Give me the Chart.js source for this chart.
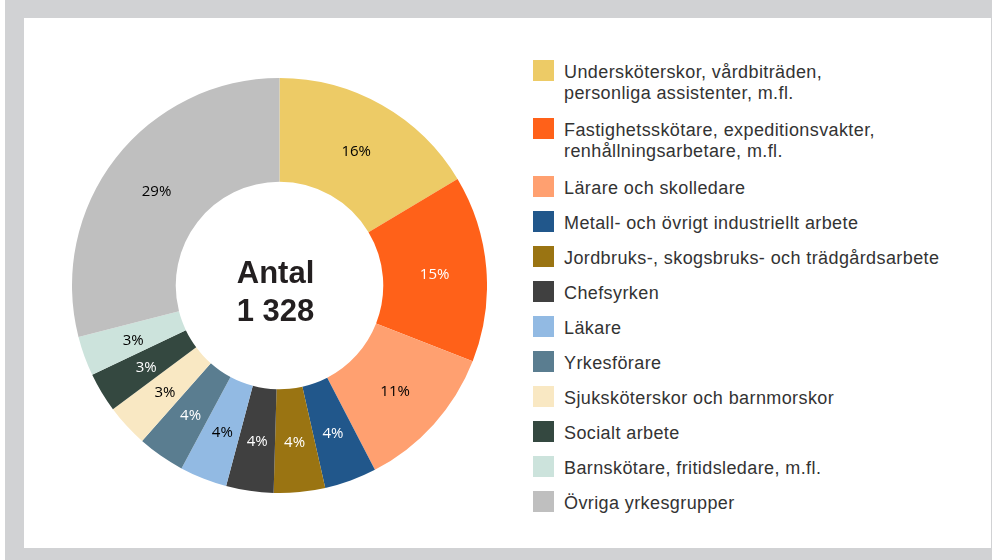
<!DOCTYPE html>
<html lang="sv">
<head>
<meta charset="utf-8">
<script src="https://cdn.jsdelivr.net/npm/chart.js@4"></script>
<style>
    html, body {
        margin: 0;
        padding: 0;
        width: 992px;
        height: 560px;
        background: #ffffff;
        overflow: hidden;
    }
    .frame {
        position: absolute;
        left: 5px;
        top: 0;
        width: 987px;
        height: 560px;
        background: #d1d2d4;
    }
    .panel {
        position: absolute;
        left: 24px;
        top: 18px;
        width: 967px;
        height: 530px;
        background: #ffffff;
    }
    .chart-box {
        position: absolute;
        left: 72px;
        top: 78px;
        width: 415px;
        height: 415px;
    }
    .legend {
        position: absolute;
        left: 533px;
        top: 60px;
        margin: 0;
        padding: 0;
        list-style: none;
        font-family: "Liberation Sans", Arial, Helvetica, sans-serif;
        font-size: 18px;
        letter-spacing: 0.4px;
        line-height: 21px;
        color: #333333;
    }
    .legend li {
        position: relative;
        padding-left: 31px;
        margin-bottom: 14px;
        white-space: nowrap;
    }
    .legend li.two {
        margin-bottom: 16px;
    }
    .legend .box {
        position: absolute;
        left: 0;
        top: 0;
        width: 21px;
        height: 21px;
    }
    .legend .txt {
        position: relative;
        top: 2px;
        display: block;
    }
</style>
</head>
<body>
<div class="frame"></div>
<div class="panel"></div>
<div class="chart-box"><canvas id="donutChart"></canvas></div>
<ul class="legend" id="legend"></ul>

<script>
// yrkesgrupper (legend text, line breaks as in the original)
const categories = [
    'Undersköterskor, vårdbiträden,\npersonliga assistenter, m.fl.',
    'Fastighetsskötare, expeditionsvakter,\nrenhållningsarbetare, m.fl.',
    'Lärare och skolledare',
    'Metall- och övrigt industriellt arbete',
    'Jordbruks-, skogsbruks- och trädgårdsarbete',
    'Chefsyrken',
    'Läkare',
    'Yrkesförare',
    'Sjuksköterskor och barnmorskor',
    'Socialt arbete',
    'Barnskötare, fritidsledare, m.fl.',
    'Övriga yrkesgrupper'
];

// antal per grupp (total 1 328)
const counts = [218, 193, 152, 54, 53, 49, 49, 49, 44, 41, 41, 385];

const colors = [
    '#EDCB66', '#FF6119', '#FFA070', '#21578B', '#9A7412', '#404040',
    '#92BAE3', '#5A7D90', '#F9E8C3', '#344840', '#CCE3DC', '#BFBFBF'
];

const labelColors = [
    '#000000', '#ffffff', '#000000', '#ffffff', '#ffffff', '#ffffff',
    '#000000', '#ffffff', '#000000', '#ffffff', '#000000', '#000000'
];

const centerLines = ['Antal', '1 328'];

const total = counts.reduce((a, b) => a + b, 0);

function buildLegend() {
    const ul = document.getElementById('legend');
    categories.forEach((name, i) => {
        const li = document.createElement('li');
        if (name.indexOf('\n') >= 0) li.className = 'two';
        const box = document.createElement('span');
        box.className = 'box';
        box.style.background = colors[i];
        const txt = document.createElement('span');
        txt.className = 'txt';
        txt.innerHTML = name.split('\n').join('<br>');
        li.appendChild(box);
        li.appendChild(txt);
        ul.appendChild(li);
    });
}

// percent labels in the ring + the centre text
const donutText = {
    id: 'donutText',
    afterDatasetsDraw(chart) {
        const ctx = chart.ctx;
        const arcs = chart.getDatasetMeta(0).data;
        ctx.save();
        ctx.textAlign = 'center';
        ctx.textBaseline = 'middle';
        ctx.font = '15px "Open Sans", sans-serif';
        arcs.forEach((arc, i) => {
            const p = arc.getCenterPoint();
            ctx.fillStyle = labelColors[i];
            ctx.fillText(Math.round(counts[i] / total * 100) + '%', p.x, p.y + 2);
        });

        const cx = arcs[0].x - 4;
        const cy = arcs[0].y;
        ctx.textBaseline = 'alphabetic';
        ctx.fillStyle = '#231f20';
        ctx.font = 'bold 31px "Liberation Sans", Arial, sans-serif';
        ctx.fillText(centerLines[0], cx, cy - 2.5);
        ctx.fillText(centerLines[1], cx, cy + 35.5);
        ctx.restore();
    }
};

function renderDonut() {
    const ctx = document.getElementById('donutChart');

    new Chart(ctx, {
        type: 'doughnut',
        data: {
            labels: categories.map(c => c.replace('\n', ' ')),
            datasets: [{
                data: counts,
                backgroundColor: colors,
                borderWidth: 0
            }]
        },
        options: {
            responsive: true,
            maintainAspectRatio: false,
            animation: false,
            cutout: '50%',
            layout: {
                padding: 0
            },
            plugins: {
                legend: {
                    display: false
                },
                tooltip: {
                    enabled: false
                }
            }
        },
        plugins: [donutText]
    });
}

buildLegend();
renderDonut();
</script>
</body>
</html>
